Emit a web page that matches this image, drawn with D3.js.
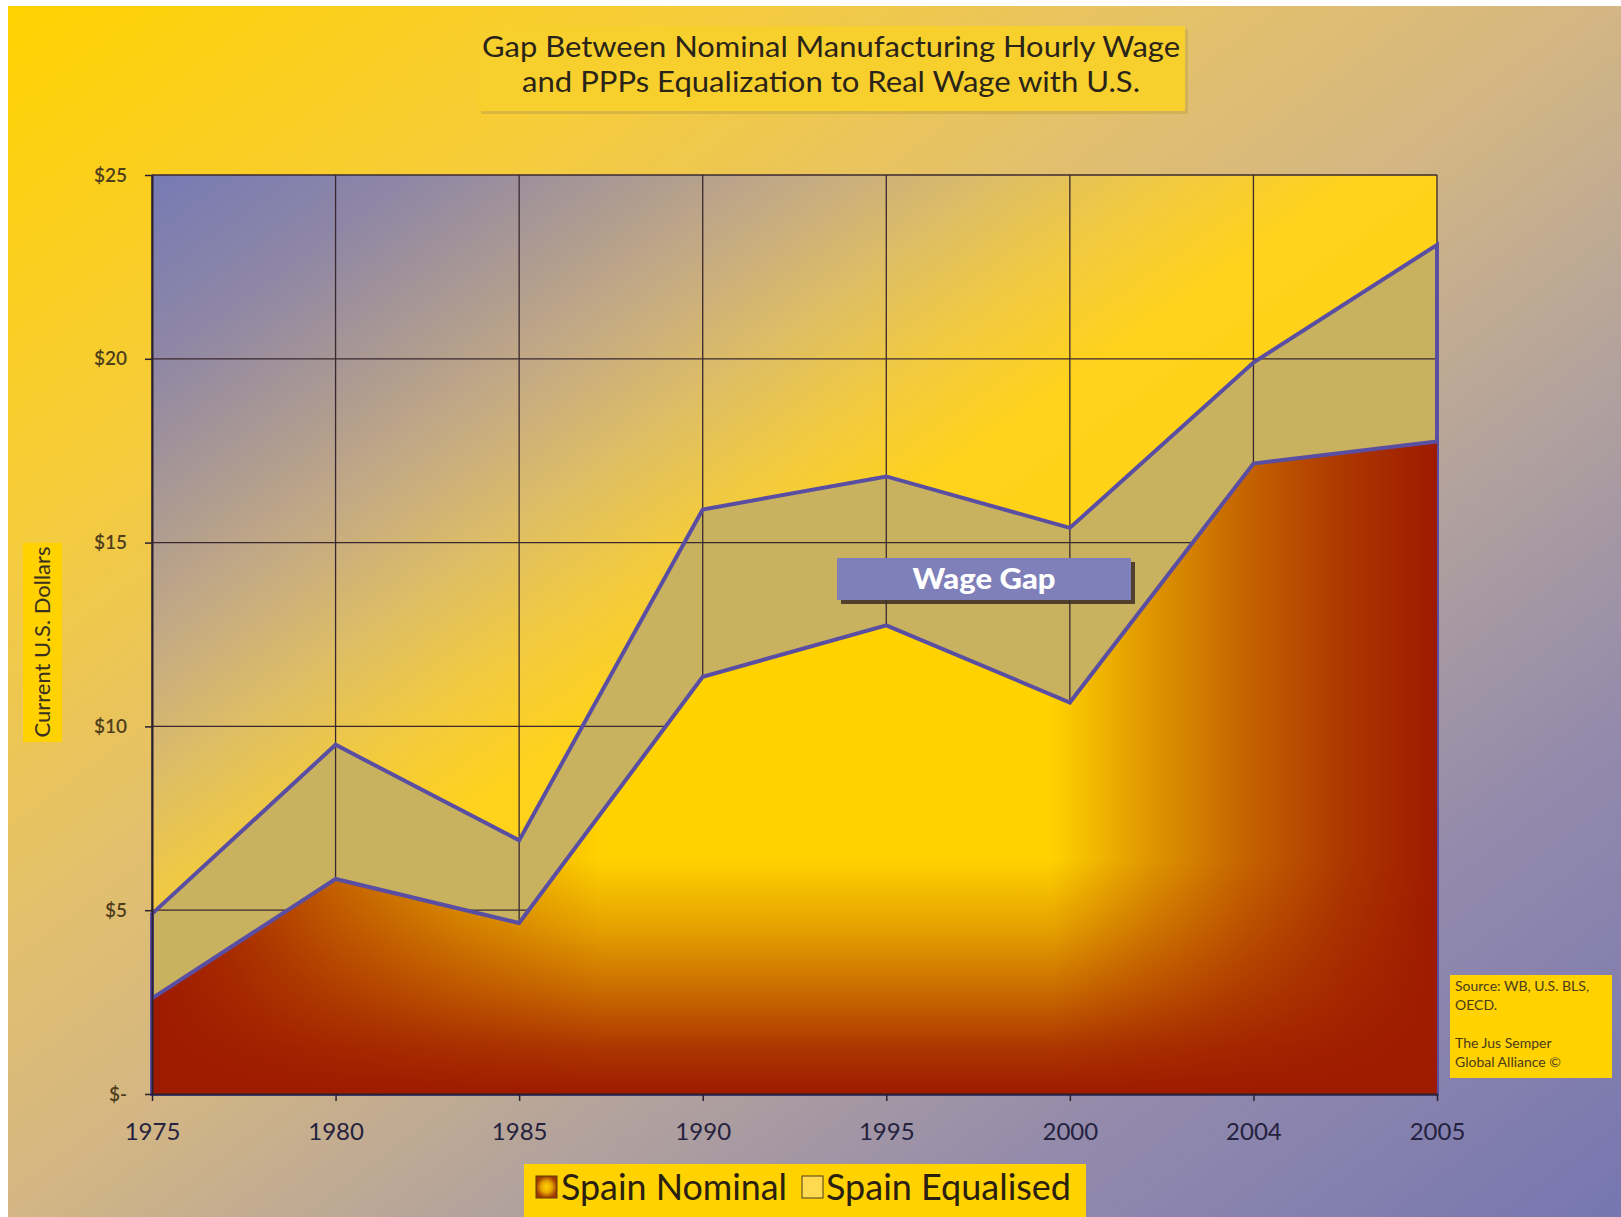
<!DOCTYPE html>
<html><head><meta charset="utf-8">
<script src="https://cdn.jsdelivr.net/npm/d3@7"></script>
<style>html,body{margin:0;padding:0;background:#fff;overflow:hidden}</style>
</head><body>
<svg id="chart" width="1621" height="1217"></svg>
<script>
const years = ["1975","1980","1985","1990","1995","2000","2004","2005"];
const nominal = [2.6, 5.85, 4.65, 11.35, 12.75, 10.65, 17.15, 17.75];
const equalised = [4.9, 9.5, 6.9, 15.9, 16.8, 15.4, 19.9, 23.1];
const yTicks = [0, 5, 10, 15, 20, 25];
const yTickLabels = ["$-", "$5", "$10", "$15", "$20", "$25"];
const titleLines = ["Gap Between Nominal Manufacturing Hourly Wage", "and PPPs Equalization to Real Wage with U.S."];
const yAxisTitle = "Current U.S. Dollars";
const seriesNames = ["Spain Nominal", "Spain Equalised"];
const gapLabel = "Wage Gap";
const sourceLines = ["Source: WB, U.S. BLS,", "OECD.", "", "The Jus Semper", "Global Alliance \u00A9"];

const FONT = "Lato, 'Open Sans', sans-serif";
const svg = d3.select("#chart");
const defs = svg.append("defs");

function lin(id, x1, y1, x2, y2, stops, units) {
  const g = defs.append("linearGradient").attr("id", id)
    .attr("x1", x1).attr("y1", y1).attr("x2", x2).attr("y2", y2);
  if (units) g.attr("gradientUnits", units);
  stops.forEach(s => g.append("stop").attr("offset", s[0]).attr("stop-color", s[1]).attr("stop-opacity", s[2] == null ? 1 : s[2]));
  return g;
}

// page background
lin("pageBg", 0, 0, 1, 1, [
  [0, "#FFD200"], [0.22, "#F6CC3C"], [0.38, "#E3C06C"], [0.5, "#D3B684"],
  [0.64, "#B4A39C"], [0.8, "#938AAC"], [1, "#7676B0"]
]);
svg.append("rect").attr("x", 8).attr("y", 6).attr("width", 1613).attr("height", 1211).attr("fill", "url(#pageBg)");

const x = d3.scalePoint().domain(years).range([152, 1437]);
const y = d3.scaleLinear().domain([0, 25]).range([1094, 175]);
const [x0, x1] = x.range();
const [yb, yt] = y.range();

// plot background
lin("plotBg", 0, 0, 1, 1, [
  [0, "#767AB4"], [0.1, "#8E86A6"], [0.18, "#A99894"], [0.26, "#C6AB82"],
  [0.33, "#DDBD66"], [0.4, "#F2CA40"], [0.47, "#FFD21C"], [1, "#FFD400"]
]);
svg.append("rect").attr("x", x0).attr("y", yt).attr("width", x1 - x0).attr("height", yb - yt).attr("fill", "url(#plotBg)");

const rows = years.map((yr, i) => ({yr, n: nominal[i], e: equalised[i]}));

// equalised area fill (gap)
const areaE = d3.area().x(d => x(d.yr)).y0(y(0)).y1(d => y(d.e));
svg.append("path").datum(rows).attr("d", areaE).attr("fill", "#C9B25F");

// gridlines
const grid = svg.append("g").attr("stroke", "#3A2830").attr("stroke-width", 1.3);
yTicks.forEach(t => grid.append("line").attr("x1", x0).attr("x2", x1).attr("y1", y(t)).attr("y2", y(t)));
years.forEach(t => grid.append("line").attr("x1", x(t)).attr("x2", x(t)).attr("y1", yt).attr("y2", yb));

// upper outline (equalised, including edges)
svg.append("path").datum(rows).attr("d", areaE).attr("fill", "none")
  .attr("stroke", "#5A4EA2").attr("stroke-width", 4).attr("stroke-linejoin", "miter");

// nominal area with rectangular gradient
const areaN = d3.area().x(d => x(d.yr)).y0(y(0)).y1(d => y(d.n));
defs.append("clipPath").attr("id", "nomClip").append("path").datum(rows).attr("d", areaN);
const nTop = y(d3.max(nominal));
const RED = "#9E1A00";
lin("nomH", x0, 0, x1, 0, [
  [0, RED, 1], [0.07, RED, 0.82], [0.14, RED, 0.58], [0.24, RED, 0.28], [0.35, RED, 0],
  [0.70, RED, 0], [0.77, RED, 0.3], [0.85, RED, 0.6], [0.93, RED, 0.85], [1, RED, 1]
], "userSpaceOnUse");
lin("nomV", 0, nTop, 0, yb, [
  [0, RED, 0], [0.64, RED, 0], [0.74, RED, 0.25], [0.84, RED, 0.55], [0.93, RED, 0.85], [1, RED, 1]
], "userSpaceOnUse");
const nomG = svg.append("g").attr("clip-path", "url(#nomClip)");
nomG.append("rect").attr("x", x0).attr("y", nTop - 5).attr("width", x1 - x0).attr("height", yb - nTop + 5).attr("fill", "#FFD200");
nomG.append("rect").attr("x", x0).attr("y", nTop - 5).attr("width", x1 - x0).attr("height", yb - nTop + 5).attr("fill", "url(#nomH)");
nomG.append("rect").attr("x", x0).attr("y", nTop - 5).attr("width", x1 - x0).attr("height", yb - nTop + 5).attr("fill", "url(#nomV)");

// nominal top line
const lineN = d3.line().x(d => x(d.yr)).y(d => y(d.n));
svg.append("path").datum(rows).attr("d", lineN).attr("fill", "none")
  .attr("stroke", "#5A4EA2").attr("stroke-width", 4);

// axes
const yAxis = svg.append("g").attr("transform", `translate(${x0},0)`)
  .call(d3.axisLeft(y).tickValues(yTicks).tickFormat((d, i) => yTickLabels[i]).tickSize(7).tickSizeOuter(0).tickPadding(18));
yAxis.select(".domain").attr("stroke", "#2A2030").attr("stroke-width", 2);
yAxis.selectAll(".tick line").attr("stroke", "#2A2030").attr("stroke-width", 1.5);
yAxis.selectAll(".tick text").attr("font-family", FONT).attr("font-size", 19).attr("font-weight", 600).attr("fill", "#4E3E1C");

const xAxis = svg.append("g").attr("transform", `translate(0,${yb})`)
  .call(d3.axisBottom(x).tickSize(7).tickSizeOuter(0).tickPadding(22));
xAxis.select(".domain").attr("stroke", "#2A2030").attr("stroke-width", 2);
xAxis.selectAll(".tick line").attr("stroke", "#2A2030").attr("stroke-width", 1.5);
xAxis.selectAll(".tick text").attr("font-family", FONT).attr("font-size", 24).attr("fill", "#24223E");

// title box
svg.append("rect").attr("x", 481).attr("y", 29).attr("width", 707).attr("height", 85).attr("fill", "#C8A848").attr("opacity", 0.6);
svg.append("rect").attr("x", 478).attr("y", 26).attr("width", 707).attr("height", 85).attr("fill", "#F8D02E");
const tl = [[titleLines[0], 57, 698], [titleLines[1], 92, 618]];
tl.forEach(t => svg.append("text").attr("x", 831).attr("y", t[1]).attr("text-anchor", "middle")
  .attr("font-family", FONT).attr("font-size", 29).attr("fill", "#2A2418")
  .attr("textLength", t[2]).attr("lengthAdjust", "spacingAndGlyphs").text(t[0]));

// y axis title
svg.append("rect").attr("x", 23).attr("y", 543).attr("width", 39).attr("height", 199).attr("fill", "#FFD200");
svg.append("text").attr("transform", "translate(50,642) rotate(-90)").attr("text-anchor", "middle")
  .attr("font-family", FONT).attr("font-size", 21).attr("fill", "#3A3020")
  .attr("textLength", 191).attr("lengthAdjust", "spacingAndGlyphs").text(yAxisTitle);

// wage gap label
svg.append("rect").attr("x", 841).attr("y", 562).attr("width", 294).attr("height", 42).attr("fill", "#3C2C24").attr("opacity", 0.85);
svg.append("rect").attr("x", 837).attr("y", 558).attr("width", 294).attr("height", 42).attr("fill", "#7F80B9");
svg.append("text").attr("x", 984).attr("y", 589).attr("text-anchor", "middle")
  .attr("font-family", FONT).attr("font-size", 29).attr("font-weight", 900).attr("fill", "#FFFFFF")
  .attr("textLength", 143).attr("lengthAdjust", "spacingAndGlyphs").text(gapLabel);

// source box
svg.append("rect").attr("x", 1450).attr("y", 975).attr("width", 162).attr("height", 103).attr("fill", "#FFD200");
sourceLines.forEach((s, i) => svg.append("text").attr("x", 1455).attr("y", 991 + i * 19)
  .attr("font-family", FONT).attr("font-size", 14).attr("fill", "#4A3A18").text(s));

// legend
svg.append("rect").attr("x", 524).attr("y", 1164).attr("width", 562).attr("height", 53).attr("fill", "#FFD200");
const rg = defs.append("radialGradient").attr("id", "legNom");
rg.append("stop").attr("offset", 0).attr("stop-color", "#FFD200");
rg.append("stop").attr("offset", 0.5).attr("stop-color", "#E8A800");
rg.append("stop").attr("offset", 1).attr("stop-color", "#A03A00");
svg.append("rect").attr("x", 536).attr("y", 1176).attr("width", 21).attr("height", 22).attr("fill", "url(#legNom)").attr("stroke", "#5A3A10").attr("stroke-width", 1);
svg.append("text").attr("x", 561).attr("y", 1200).attr("font-family", FONT).attr("font-size", 36).attr("fill", "#2A2010")
  .attr("textLength", 226).attr("lengthAdjust", "spacingAndGlyphs").text(seriesNames[0]);
svg.append("rect").attr("x", 802).attr("y", 1176).attr("width", 21).attr("height", 22).attr("fill", "#FFDA50").attr("stroke", "#4A3A20").attr("stroke-width", 1);
svg.append("text").attr("x", 826).attr("y", 1200).attr("font-family", FONT).attr("font-size", 36).attr("fill", "#2A2010")
  .attr("textLength", 245).attr("lengthAdjust", "spacingAndGlyphs").text(seriesNames[1]);
</script>
</body></html>
